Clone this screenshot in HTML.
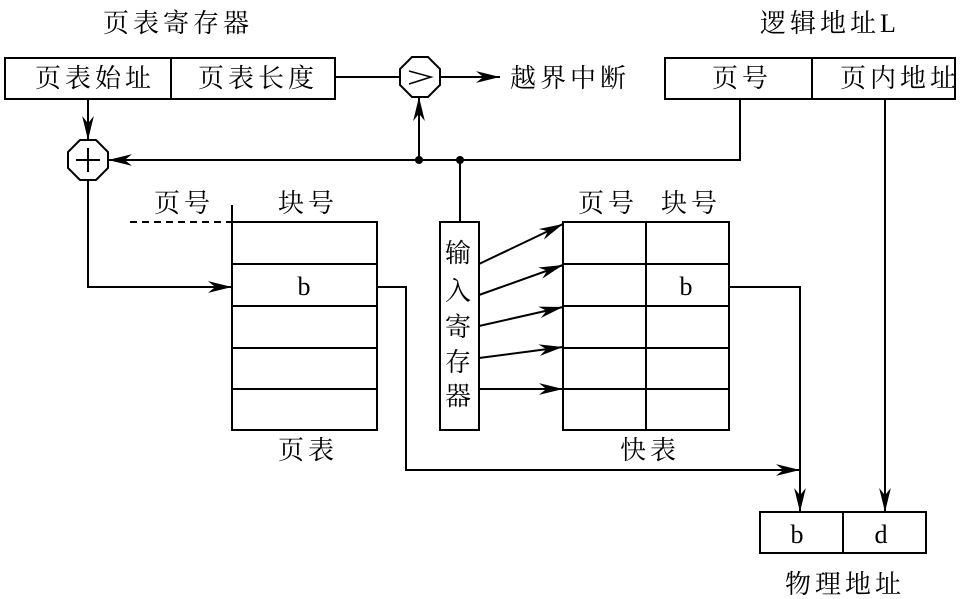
<!DOCTYPE html>
<html><head><style>body{margin:0;background:#fff}svg{display:block}text{font-family:"Liberation Serif","Noto Serif CJK SC",serif;font-size:26px;fill:#000;letter-spacing:4px}</style></head><body>
<svg width="980" height="599" viewBox="0 0 980 599" xmlns="http://www.w3.org/2000/svg">
<defs><marker id="b" viewBox="0 0 10 10" refX="10" refY="5" markerWidth="24" markerHeight="13" markerUnits="userSpaceOnUse" orient="auto" preserveAspectRatio="none"><path d="M0,0.5 L10,5 L0,9.5 L3,5z" fill="#000"/></marker></defs>
<g stroke="#000" stroke-width="2" fill="none">
<rect x="5" y="58" width="330" height="41"/><line x1="171" y1="58" x2="171" y2="99"/>
<rect x="665" y="58" width="290" height="41"/><line x1="812" y1="58" x2="812" y2="99"/>
<polygon points="412,57 428,57 440,69 440,85 428,97 412,97 400,85 400,69"/>
<polygon points="80,140 96,140 108,152 108,168 96,180 80,180 68,168 68,152"/>
<line x1="335" y1="77" x2="400" y2="77"/>
<line x1="440" y1="77" x2="500" y2="77" marker-end="url(#b)"/>
<line x1="88" y1="99" x2="88" y2="140" marker-end="url(#b)"/>
<polyline points="740,99 740,160 108,160" marker-end="url(#b)"/>
<line x1="419" y1="160" x2="419" y2="97" marker-end="url(#b)"/>
<line x1="460" y1="160" x2="460" y2="222"/>
<rect x="440" y="222" width="39" height="208"/>
<rect x="232" y="222" width="145" height="208"/>
<line x1="232" y1="264" x2="377" y2="264"/><line x1="232" y1="306" x2="377" y2="306"/><line x1="232" y1="348" x2="377" y2="348"/><line x1="232" y1="389" x2="377" y2="389"/>
<line x1="232" y1="205" x2="232" y2="222"/>
<line x1="130" y1="222" x2="232" y2="222" stroke-dasharray="7,5"/>
<polyline points="88,180 88,287 232,287" marker-end="url(#b)"/>
<polyline points="377,287 406,287 406,470 800,470" marker-end="url(#b)"/>
<rect x="563" y="222" width="166" height="208"/><line x1="646" y1="222" x2="646" y2="430"/>
<line x1="563" y1="264" x2="729" y2="264"/><line x1="563" y1="306" x2="729" y2="306"/><line x1="563" y1="348" x2="729" y2="348"/><line x1="563" y1="389" x2="729" y2="389"/>
<line x1="479" y1="264" x2="563" y2="224" marker-end="url(#b)"/>
<line x1="479" y1="295" x2="563" y2="265" marker-end="url(#b)"/>
<line x1="479" y1="326" x2="563" y2="307" marker-end="url(#b)"/>
<line x1="479" y1="358" x2="563" y2="347" marker-end="url(#b)"/>
<line x1="479" y1="389" x2="563" y2="389" marker-end="url(#b)"/>
<polyline points="729,287 800,287 800,512" marker-end="url(#b)"/>
<line x1="885" y1="99" x2="885" y2="512" marker-end="url(#b)"/>
<rect x="760" y="512" width="166" height="41"/><line x1="843" y1="512" x2="843" y2="553"/>
<line x1="76" y1="160" x2="100" y2="160"/><line x1="88" y1="148" x2="88" y2="172"/>
<polyline points="409,71 431,77 409,84" stroke-width="1.5"/>
</g>
<circle cx="419" cy="160" r="4"/><circle cx="460" cy="160" r="4"/>
<g text-anchor="middle">
<text x="178" y="32">页表寄存器</text>
<text x="830" y="32">逻辑地址L</text>
<text x="95" y="87">页表始址</text>
<text x="258" y="87">页表长度</text>
<text x="570" y="87">越界中断</text>
<text x="742" y="87">页号</text>
<text x="900" y="87">页内地址</text>
<text x="184" y="212">页号</text><text x="308" y="212">块号</text>
<text x="304" y="295" style="letter-spacing:0">b</text><text x="308" y="459">页表</text>
<text x="608" y="212">页号</text><text x="691" y="212">块号</text>
<text x="686" y="295" style="letter-spacing:0">b</text><text x="650" y="459">快表</text>
<g style="letter-spacing:0"><text x="460" y="262">输</text><text x="460" y="300">入</text><text x="460" y="336">寄</text><text x="460" y="371">存</text><text x="460" y="405">器</text>
<text x="799" y="543">b</text><text x="883" y="543">d</text></g>
<text x="845" y="593">物理地址</text>
</g>
</svg>
</body></html>
